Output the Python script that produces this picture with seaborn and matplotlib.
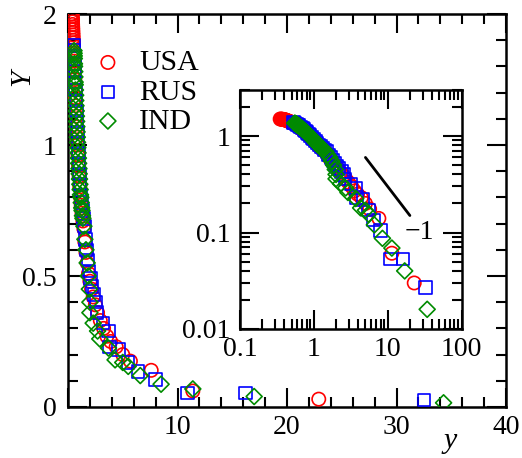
import numpy as np
import pandas as pd
import matplotlib
matplotlib.use("Agg")
import matplotlib.pyplot as plt
import seaborn as sns
from matplotlib.ticker import FixedLocator, FixedFormatter, MultipleLocator, LogLocator, NullFormatter

# ---------------- data ----------------
usa_y = [0.35, 0.36, 0.37, 0.38, 0.39, 0.40, 0.41, 0.42, 0.43, 0.44, 0.45, 0.46, 0.47, 0.48, 0.49, 0.50,
         0.53, 0.56, 0.59, 0.62, 0.65, 0.68, 0.71, 0.75, 0.79, 0.83, 0.87, 0.92, 0.97, 1.02, 1.08, 1.14,
         1.21, 1.28, 1.36, 1.45, 1.54, 1.64, 1.75, 1.87, 2.00, 2.15, 2.30, 2.50, 2.70, 2.95, 3.25, 3.55,
         3.90, 4.40, 5.00, 5.70, 7.60, 11.4, 22.9]
usa_Y = [1.50, 1.50, 1.49, 1.49, 1.48, 1.48, 1.47, 1.46, 1.45, 1.44, 1.43, 1.42, 1.41, 1.40, 1.39, 1.38,
         1.35, 1.32, 1.28, 1.25, 1.21, 1.18, 1.15, 1.11, 1.07, 1.03, 1.00, 0.96, 0.92, 0.88, 0.84, 0.80,
         0.77, 0.74, 0.71, 0.68, 0.63, 0.59, 0.55, 0.51, 0.48, 0.45, 0.42, 0.39, 0.36, 0.33, 0.30, 0.27,
         0.25, 0.23, 0.20, 0.175, 0.14, 0.061, 0.030]

rus_y = [0.53, 0.55, 0.58, 0.60, 0.63, 0.66, 0.70, 0.73, 0.77, 0.81, 0.85, 0.89, 0.94, 0.99, 1.05, 1.11,
         1.17, 1.25, 1.32, 1.40, 1.50, 1.59, 1.70, 1.81, 1.93, 2.06, 2.20, 2.37, 2.55, 2.65, 3.20, 3.70,
         3.80, 4.60, 5.50, 6.40, 8.00, 10.9, 16.2, 32.5]
rus_Y = [1.38, 1.36, 1.34, 1.31, 1.28, 1.24, 1.21, 1.17, 1.13, 1.09, 1.05, 1.01, 0.97, 0.93, 0.89, 0.85,
         0.81, 0.78, 0.75, 0.72, 0.69, 0.64, 0.60, 0.56, 0.52, 0.49, 0.46, 0.43, 0.40, 0.36, 0.32, 0.29,
         0.23, 0.22, 0.17, 0.135, 0.105, 0.053, 0.053, 0.027]

ind_y = [0.55, 0.56, 0.57, 0.58, 0.59, 0.60, 0.62, 0.63, 0.65, 0.66, 0.68, 0.70, 0.71, 0.73, 0.75, 0.77,
         0.79, 0.81, 0.83, 0.85, 0.87, 0.90, 0.92, 0.95, 0.97, 1.00, 1.02, 1.05, 1.08, 1.11, 1.14, 1.18,
         1.21, 1.25, 1.28, 1.32, 1.36, 1.45, 1.54, 1.64, 1.75, 1.85, 1.95, 2.00, 2.00, 2.30, 2.70, 2.90,
         3.70, 4.30, 5.00, 5.50, 6.60, 8.50, 11.4, 17.0, 34.3]
ind_Y = [1.36, 1.35, 1.34, 1.33, 1.31, 1.30, 1.28, 1.26, 1.24, 1.23, 1.21, 1.19, 1.17, 1.15, 1.13, 1.11,
         1.09, 1.07, 1.05, 1.03, 1.01, 0.99, 0.97, 0.95, 0.93, 0.91, 0.89, 0.87, 0.85, 0.83, 0.81, 0.80,
         0.78, 0.76, 0.75, 0.73, 0.72, 0.69, 0.64, 0.60, 0.55, 0.50, 0.45, 0.40, 0.36, 0.32, 0.29, 0.26,
         0.225, 0.18, 0.17, 0.155, 0.12, 0.087, 0.069, 0.040, 0.016]

series_names = ["USA", "RUS", "IND"]

main_xticks = [0, 10, 20, 30, 40]
main_xticklabels = ["", "10", "20", "30", "40"]
main_yticks = [0.0, 0.5, 1.0, 1.5]
main_yticklabels = ["0", "0.5", "1", "2"]

inset_xticks = [0.1, 1, 10, 100]
inset_xticklabels = ["0.1", "1", "10", "100"]
inset_yticks = [0.01, 0.1, 1]
inset_yticklabels = ["0.01", "0.1", "1"]

slope_x = [5.0, 20.0]
slope_Y = [0.6, 0.15]
slope_label = "\u22121"

# ---------------- styling ----------------
colors = {"USA": "#ff0000", "RUS": "#0000ff", "IND": "#008b00"}
markers = {"USA": "o", "RUS": "s", "IND": "D"}
msizes = {"USA": 92, "RUS": 80, "IND": 66}

frames = []
for name, xs, ys in [("USA", usa_y, usa_Y), ("RUS", rus_y, rus_Y), ("IND", ind_y, ind_Y)]:
    frames.append(pd.DataFrame({"size": xs, "Y": ys, "country": name}))
df = pd.concat(frames, ignore_index=True)

sns.set_style("ticks")
plt.rcParams["font.family"] = ["Liberation Serif", "DejaVu Serif"]
plt.rcParams["axes.linewidth"] = 1.8
for k in ["text.color", "axes.labelcolor", "xtick.color", "ytick.color", "axes.edgecolor",
          "xtick.labelcolor", "ytick.labelcolor"]:
    plt.rcParams[k] = "black"

fig = plt.figure(figsize=(5.22, 4.58), dpi=100)
W, H = 522.0, 458.0
ax = fig.add_axes([68 / W, 1 - 407 / H, 438 / W, 393 / H])
axin = fig.add_axes([240 / W, 1 - 329 / H, 221.5 / W, 239 / H])


def draw(a, with_label):
    for name in series_names:
        sub = df[df["country"] == name]
        sns.scatterplot(x=sub["size"].to_numpy(), y=sub["Y"].to_numpy(), ax=a,
                        marker=markers[name], s=msizes[name], facecolors="none",
                        edgecolor=colors[name], linewidth=1.2,
                        label=name if with_label else None, legend=False, zorder=3)


draw(ax, True)
ax.set_xlim(0, 40)
ax.set_ylim(0, 1.5)
ax.xaxis.set_major_locator(FixedLocator(main_xticks))
ax.xaxis.set_major_formatter(FixedFormatter(main_xticklabels))
ax.xaxis.set_minor_locator(MultipleLocator(2))
ax.yaxis.set_major_locator(FixedLocator(main_yticks))
ax.yaxis.set_major_formatter(FixedFormatter(main_yticklabels))
ax.yaxis.set_minor_locator(MultipleLocator(0.1))
ax.tick_params(which="both", direction="in", top=True, right=True, width=1.5, labelsize=20,
               color="black", labelcolor="black")
ax.tick_params(which="major", length=14)
ax.tick_params(which="minor", length=7.5)
ax.tick_params(axis="y", which="major", pad=8)
ax.tick_params(axis="x", which="major", pad=6)
ax.set_xlabel("")
ax.set_ylabel("")
for sp in ax.spines.values():
    sp.set_linewidth(1.8)
    sp.set_color("black")

leg = ax.legend(loc="upper left", bbox_to_anchor=(0.057, 0.91), borderaxespad=0, borderpad=0,
                frameon=False, handlelength=1.0, handletextpad=0.55, labelspacing=0.08,
                fontsize=21.5)
for t in leg.get_texts():
    t.set_color("black")

# inset
draw(axin, False)
axin.plot(slope_x, slope_Y, color="black", linewidth=2.0, zorder=2)
axin.text(27, 0.1, slope_label, fontsize=20, ha="center", va="center", color="black")
axin.set_xscale("log")
axin.set_yscale("log")
axin.set_xlim(0.1, 100)
axin.set_ylim(0.01, 3)
axin.xaxis.set_major_locator(FixedLocator(inset_xticks))
axin.xaxis.set_major_formatter(FixedFormatter(inset_xticklabels))
axin.xaxis.set_minor_locator(LogLocator(base=10, subs=np.arange(2, 10)))
axin.xaxis.set_minor_formatter(NullFormatter())
axin.yaxis.set_major_locator(FixedLocator(inset_yticks))
axin.yaxis.set_major_formatter(FixedFormatter(inset_yticklabels))
axin.yaxis.set_minor_locator(LogLocator(base=10, subs=np.arange(2, 10)))
axin.yaxis.set_minor_formatter(NullFormatter())
axin.tick_params(which="both", direction="in", top=True, right=True, width=1.5, labelsize=20,
                 color="black", labelcolor="black")
axin.tick_params(which="major", length=14)
axin.tick_params(which="minor", length=7)
axin.tick_params(axis="y", which="major", pad=7)
axin.tick_params(axis="x", which="major", pad=6)
axin.set_xlabel("")
axin.set_ylabel("")
axin.set_facecolor("white")
for sp in axin.spines.values():
    sp.set_linewidth(1.8)
    sp.set_color("black")

fig.text(22 / W, 1 - 78 / H, "Y", fontsize=21.5, style="italic", rotation=90, ha="center",
         va="center", color="black")
fig.text(450 / W, 1 - 441 / H, "y", fontsize=21.5, style="italic", ha="center", va="center",
         color="black")

fig.savefig("out.png", dpi=100)
